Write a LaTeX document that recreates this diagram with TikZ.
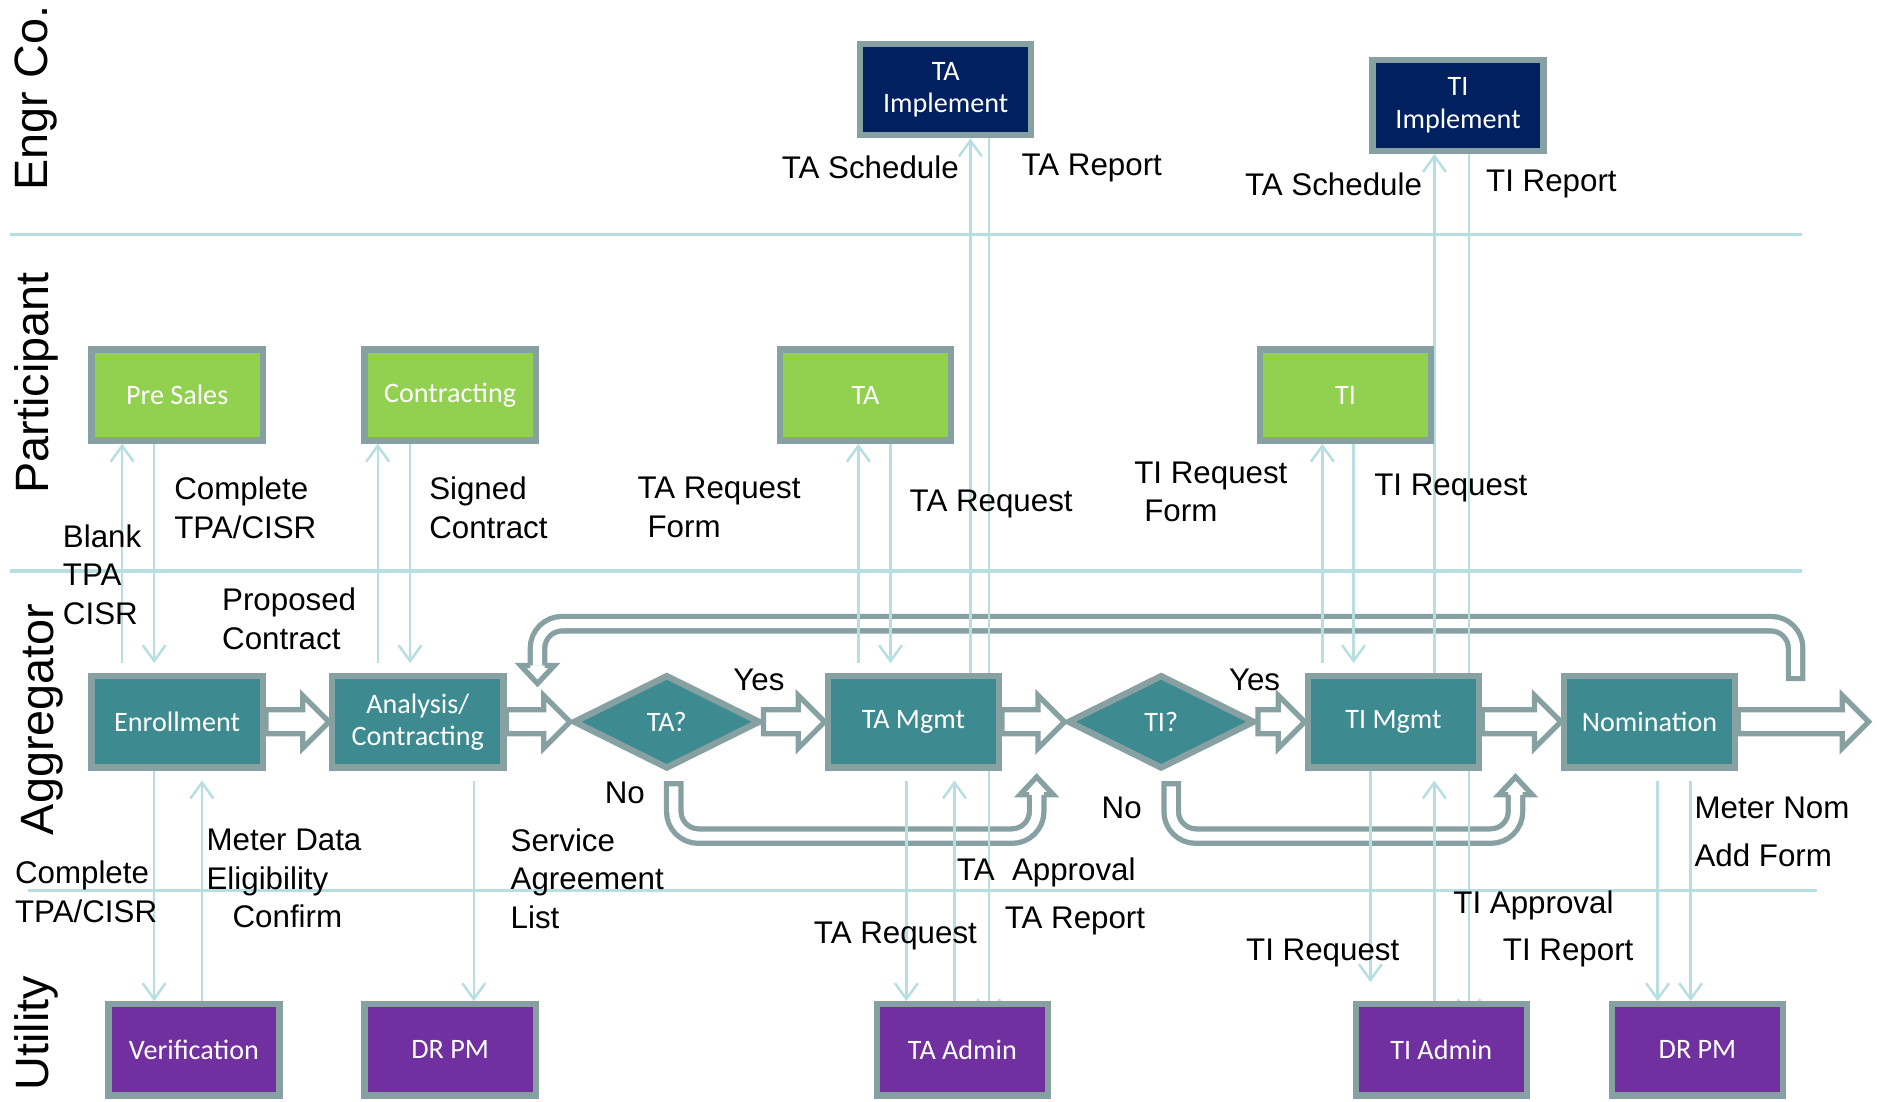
\documentclass[tikz,border=0pt]{standalone}
\usepackage{fontspec}
\setmainfont{Liberation Sans}
\newfontfamily\boxfont{Carlito}
\usepackage{tikz}
\usetikzlibrary{calc,positioning,shapes.geometric,arrows.meta,backgrounds}

\definecolor{lanecol}{RGB}{183,222,224}
\definecolor{bordercol}{RGB}{135,160,162}
\definecolor{partcol}{RGB}{146,208,80}
\definecolor{engrcol}{RGB}{0,32,96}
\definecolor{aggrcol}{RGB}{61,139,145}
\definecolor{utilcol}{RGB}{112,48,160}

\tikzset{box/.style = {rectangle, draw=bordercol, line width=1.8pt, minimum width=1.71cm,
            minimum height=0.91cm, inner sep=1pt, align=center, text=white,
            font=\boxfont\fontsize{8}{9.2}\selectfont}}
\tikzset{part/.style = {box, fill=partcol}, engr/.style = {box, fill=engrcol},
         aggr/.style = {box, fill=aggrcol}, util/.style = {box, fill=utilcol}}
\tikzset{decision/.style = {diamond, aspect=2, draw=bordercol, line width=1.8pt, fill=aggrcol,
            minimum width=1.87cm, minimum height=0.94cm, inner sep=0pt, text=white,
            font=\boxfont\fontsize{8}{9.2}\selectfont}}
\tikzset{msg/.style = {draw=lanecol, line width=0.7pt, -{Straight Barb[length=4.5pt,width=6.5pt]}}}
\tikzset{lane/.style = {draw=lanecol, line width=1pt},
         lanename/.style = {rotate=90, inner sep=0pt, font=\fontsize{13.3}{16}\selectfont},
         lbl/.style = {inner sep=0pt, align=left, font=\fontsize{8.9}{11}\selectfont}}
\tikzset{bigarrow/.style = {draw=bordercol, fill=white, line width=1.5pt},
         pipe/.style = {draw=bordercol, line width=5.6pt, rounded corners=7pt,
            postaction={draw=white, line width=2.6pt, shorten <=1.5pt}},
         pipehead/.style = {draw=bordercol, fill=white, line width=1.5pt}}

\newcommand{\flowarrow}[2]{%
  \filldraw[bigarrow] ($(#1)+(0,10)$) -- ($(#2)+(-22,10)$) -- ($(#2)+(-22,22)$) -- (#2)
    -- ($(#2)+(-22,-22)$) -- ($(#2)+(-22,-10)$) -- ($(#1)+(0,-10)$) -- cycle;}

\begin{document}
\begin{tikzpicture}[x=0.01197cm, y=-0.01197cm]
\useasboundingbox (0,0) rectangle (1568,920);

% lane names
\node[lanename] (laneengr) at (30,82) {Engr Co.};
\node[lanename] (lanepart) at (30,320) {Participant};
\node[lanename] (laneaggr) at (35,601) {Aggregator};
\node[lanename] (laneutil) at (30,863) {Utility};

% Engr Co.
\node[engr] (taimpl) at (790,75) {TA\\Implement};
\node[engr] (tiimpl) at (1218,88) {TI\\Implement};

% Participant
\node[part] (presales) at (148,330) {Pre Sales};
\node[part] (contract) at (376,330) {Contracting};
\node[part] (ta) at (723,330) {TA};
\node[part] (ti) at (1124,330) {TI};

% Aggregator
\node[aggr] (enroll) at (148,603) {Enrollment};
\node[aggr] (analysis) at (349,603) {Analysis/\\Contracting};
\node[decision] (taq) at (557,603) {TA?};
\node[aggr] (tamgmt) at (763,603) {TA Mgmt};
\node[decision] (tiq) at (970,603) {TI?};
\node[aggr] (timgmt) at (1164,603) {TI Mgmt};
\node[aggr] (nomination) at (1378,603) {Nomination};

% Utility
\node[util] (verif) at (162,877) {Verification};
\node[util] (drpm) at (376,877) {DR PM};
\node[util] (taadmin) at (804,877) {TA Admin};
\node[util] (tiadmin) at (1204,877) {TI Admin};
\node[util] (drpmnom) at (1418,877) {DR PM};

\coordinate (exit) at (1561,603);
\coordinate (skipta) at (866,664);
\coordinate (skipti) at (1266,664);
\coordinate (loopstart) at (1500,569);
\coordinate (loopend) at (449,556);

\begin{pgfonlayer}{background}
  % lane borders
  \draw[lane] (8,196) -- (1505,196);
  \draw[lane] (8,477) -- (1505,477);
  \draw[lane] (23,744) -- (1518,744);

  % No branches and loop back
  \draw[pipe] ([xshift=0.07cm,yshift=-0.09cm]taq.south) -- ++(0,46) -| (skipta);
  \filldraw[pipehead, shift={(skipta)}] (-6,0) -- (-14,0) -- (0,-15) -- (14,0) -- (6,0);
  \draw[pipe] ([xshift=0.1cm,yshift=-0.09cm]tiq.south) -- ++(0,46) -| (skipti);
  \filldraw[pipehead, shift={(skipti)}] (-6,0) -- (-14,0) -- (0,-15) -- (14,0) -- (6,0);
  \draw[pipe] (loopstart) -- ++(0,-48) -| (loopend);
  \filldraw[pipehead, shift={(loopend)}] (-6,0) -- (-14,0) -- (0,15) -- (14,0) -- (6,0);

  % main flow
  \foreach \a/\b in {enroll.east/analysis.west, analysis.east/taq.west, taq.east/tamgmt.west,
                     tamgmt.east/tiq.west, tiq.east/timgmt.west, timgmt.east/nomination.west,
                     nomination.east/exit}
    \flowarrow{\a}{\b};

  % Pre Sales and Enrollment
  \draw[msg] ([xshift=-0.55cm,yshift=0.1cm]enroll.north) -- ([xshift=-0.55cm]enroll.north |- presales.south);
  \draw[msg] ([xshift=-0.23cm]presales.south) -- ([xshift=-0.23cm,yshift=0.1cm]presales.south |- enroll.north);

  % Contracting and Analysis
  \draw[msg] ([xshift=-0.40cm,yshift=0.1cm]analysis.north) -- ([xshift=-0.40cm]analysis.north |- contract.south);
  \draw[msg] ([xshift=-0.40cm]contract.south) -- ([xshift=-0.40cm,yshift=0.1cm]contract.south |- analysis.north);

  % TA and TA Mgmt
  \draw[msg] ([xshift=-0.55cm,yshift=0.1cm]tamgmt.north) -- ([xshift=-0.55cm]tamgmt.north |- ta.south);
  \draw[msg] ([xshift=0.25cm]ta.south) -- ([xshift=0.25cm,yshift=0.1cm]ta.south |- tamgmt.north);

  % TI and TI Mgmt
  \draw[msg] ([xshift=-0.71cm,yshift=0.1cm]timgmt.north) -- ([xshift=-0.71cm]timgmt.north |- ti.south);
  \draw[msg] ([xshift=0.08cm]ti.south) -- ([xshift=0.08cm,yshift=0.1cm]ti.south |- timgmt.north);

  % TA Implement
  \draw[msg] ([xshift=0.57cm]tamgmt.north) -- ([xshift=0.57cm]tamgmt.north |- taimpl.south);
  \draw[msg] ([xshift=0.43cm]taimpl.south) -- ([xshift=0.43cm,yshift=-0.16cm]taimpl.south |- taadmin.north);

  % TI Implement
  \draw[msg] ([xshift=0.41cm]timgmt.north) -- ([xshift=0.41cm]timgmt.north |- tiimpl.south);
  \draw[msg] ([xshift=0.11cm]tiimpl.south) -- ([xshift=0.11cm,yshift=-0.16cm]tiimpl.south |- tiadmin.north);

  % Enrollment and Verification
  \draw[msg] ([xshift=-0.23cm]enroll.south) -- ([xshift=-0.23cm]enroll.south |- verif.north);
  \draw[msg] ([xshift=0.08cm]verif.north) -- ([xshift=0.08cm,yshift=-0.1cm]verif.north |- enroll.south);

  % Analysis to DR PM
  \draw[msg] ([xshift=0.56cm,yshift=-0.1cm]analysis.south) -- ([xshift=0.56cm]analysis.south |- drpm.north);

  % TA Mgmt and TA Admin
  \draw[msg] ([xshift=-0.07cm,yshift=-0.1cm]tamgmt.south) -- ([xshift=-0.07cm]tamgmt.south |- taadmin.north);
  \draw[msg] ([xshift=-0.08cm]taadmin.north) -- ([xshift=-0.08cm,yshift=-0.1cm]taadmin.north |- tamgmt.south);

  % TI Mgmt and TI Admin
  \draw[msg] ([xshift=-0.23cm]timgmt.south) -- ([xshift=-0.23cm,yshift=0.19cm]timgmt.south |- tiadmin.north);
  \draw[msg] ([xshift=-0.07cm]tiadmin.north) -- ([xshift=-0.07cm,yshift=-0.1cm]tiadmin.north |- timgmt.south);

  % Nomination to DR PM
  \draw[msg] ([xshift=0.08cm,yshift=-0.1cm]nomination.south) -- ([xshift=0.08cm]nomination.south |- drpmnom.north);
  \draw[msg] ([xshift=0.41cm,yshift=-0.1cm]nomination.south) -- ([xshift=0.41cm]nomination.south |- drpmnom.north);
\end{pgfonlayer}

% labels
\node[lbl] (ltasched) at (727,140) {TA Schedule};
\node[lbl] (ltarep) at (912,140) {TA Report};
\node[lbl] (ltisched) at (1114,154) {TA Schedule};
\node[lbl] (ltirep) at (1296,154) {TI Report};
\node[lbl, anchor=west] (lcompl) at (145,424) {Complete\\TPA/CISR};
\node[lbl, anchor=west] (lblank) at (52,480) {Blank\\TPA\\CISR};
\node[lbl, anchor=west] (lsigned) at (358,424) {Signed\\Contract};
\node[lbl, anchor=west] (lprop) at (185,517) {Proposed\\Contract};
\node[lbl, anchor=west] (ltaform) at (532,424) {TA Request\\\hspace*{0.1cm}Form};
\node[lbl] (ltareq) at (828,421) {TA Request};
\node[lbl, anchor=west] (ltiform) at (947,411) {TI Request\\\hspace*{0.1cm}Form};
\node[lbl] (ltireq) at (1212,408) {TI Request};
\node[lbl] (lyesta) at (634,568) {Yes};
\node[lbl] (lyesti) at (1048,568) {Yes};
\node[lbl] (lnota) at (522,662) {No};
\node[lbl] (lnoti) at (937,675) {No};
\node[lbl, anchor=west] (lcompl2) at (12,745) {Complete\\TPA/CISR};
\node[lbl, anchor=west] (lmeter) at (172,734) {Meter Data\\Eligibility\\\hspace*{0.26cm}Confirm};
\node[lbl, anchor=west] (lservice) at (426,734) {Service\\Agreement\\List};
\node[lbl] (ltaappr) at (874,729) {TA~~Approval};
\node[lbl] (ltarep2) at (898,769) {TA Report};
\node[lbl] (ltareq2) at (748,782) {TA Request};
\node[lbl] (ltiappr) at (1281,756) {TI Approval};
\node[lbl] (ltireq2) at (1105,796) {TI Request};
\node[lbl] (ltirep2) at (1310,796) {TI Report};
\node[lbl, anchor=west, font=\fontsize{8.9}{13.6}\selectfont] (lnom) at (1415,695) {Meter Nom\\Add Form};
\end{tikzpicture}
\end{document}
